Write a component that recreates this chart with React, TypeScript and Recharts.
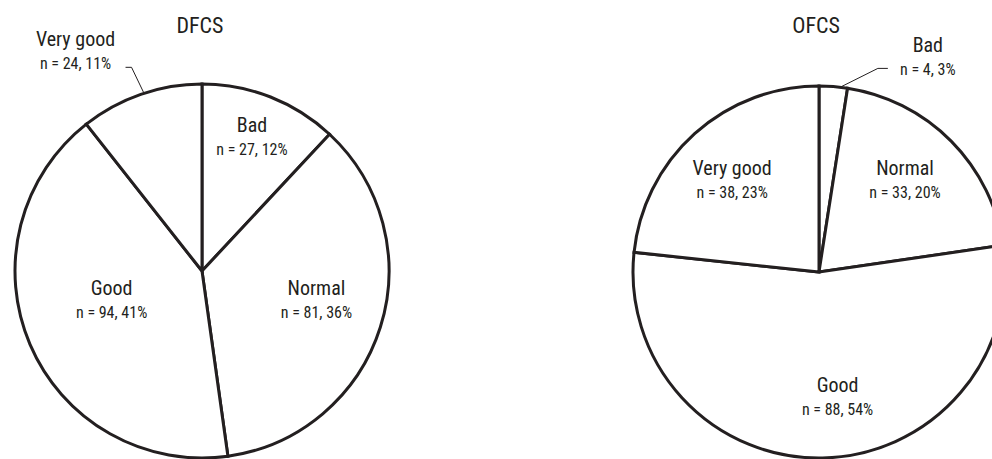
import { PieChart, Pie, Customized } from 'recharts'

const NAMES = ['Bad', 'Normal', 'Good', 'Very good']
const DFCS_N = [27, 81, 94, 24]
const DFCS_PCT = [12, 36, 41, 11]
const OFCS_N = [4, 33, 88, 38]
const OFCS_PCT = [3, 20, 54, 23]

const INK = '#231f20'
const FONT = "'Liberation Sans Narrow', 'Roboto Condensed', 'DejaVu Sans Condensed', 'Liberation Sans', sans-serif"
const RAD = Math.PI / 180

// label placement per slice: inside labels sit at k * radius, rotated da degrees off the mid angle;
// outside ones get a leader line with an elbow
type Place =
  | { k: number; da: number }
  | { da: number; elbow: [number, number]; tail: number; tx: number; nameDy: number; subDy: number }

const DFCS_PLACE: Place[] = [
  { k: 0.77, da: 1.2 },
  { k: 0.63, da: 3.8 },
  { k: 0.506, da: -5.9 },
  { da: -1, elbow: [-12, -25], tail: -6, tx: -50, nameDy: -21, subDy: 2 },
]
const OFCS_PLACE: Place[] = [
  { da: -2.6, elbow: [36, -18], tail: 10, tx: 40, nameDy: -16, subDy: 7 },
  { k: 0.681, da: 2.5 },
  { k: 0.674, da: 7.4 },
  { k: 0.684, da: 1.1 },
]

const dfcsData = NAMES.map((name, i) => ({ name, value: DFCS_N[i], pct: DFCS_PCT[i] }))
const ofcsData = NAMES.map((name, i) => ({ name, value: OFCS_N[i], pct: OFCS_PCT[i] }))

function makeLabel(places: Place[]) {
  return (props: any) => {
    const { cx, cy, midAngle, outerRadius, index, payload } = props
    const place = places[index]
    const name = payload?.name ?? NAMES[index]
    const sub = `n = ${payload?.value}, ${payload?.pct}%`
    const a = (midAngle + place.da) * RAD
    if ('k' in place) {
      const x = cx + outerRadius * place.k * Math.cos(a)
      const y = cy - outerRadius * place.k * Math.sin(a)
      return (
        <g key={`l-${index}`}>
          <text x={x} y={y - 4} textAnchor="middle" fontSize={20} fill={INK} fontFamily={FONT}>
            {name}
          </text>
          <text x={x} y={y + 19} textAnchor="middle" fontSize={16} fill={INK} fontFamily={FONT}>
            {sub}
          </text>
        </g>
      )
    }
    const x0 = cx + (outerRadius + 1) * Math.cos(a)
    const y0 = cy - (outerRadius + 1) * Math.sin(a)
    const x1 = x0 + place.elbow[0]
    const y1 = y0 + place.elbow[1]
    const x2 = x1 + place.tail
    const tx = x2 + place.tx
    return (
      <g key={`l-${index}`}>
        <polyline points={`${x0},${y0} ${x1},${y1} ${x2},${y1}`} fill="none" stroke={INK} strokeWidth={1} />
        <text x={tx} y={y1 + place.nameDy} textAnchor="middle" fontSize={20} fill={INK} fontFamily={FONT}>
          {name}
        </text>
        <text x={tx} y={y1 + place.subDy} textAnchor="middle" fontSize={16} fill={INK} fontFamily={FONT}>
          {sub}
        </text>
      </g>
    )
  }
}

function Titles() {
  return (
    <g fontFamily={FONT} fontSize={22} fill={INK}>
      <text x={200} y={33} textAnchor="middle">DFCS</text>
      <text x={816} y={33} textAnchor="middle">OFCS</text>
    </g>
  )
}

export default function App() {
  return (
    <div style={{ position: 'absolute', left: 0, top: 0, width: 992, height: 459, background: '#fff' }}>
      <PieChart width={992} height={459} margin={{ top: 0, right: 0, bottom: 0, left: 0 }}>
        <Pie
          data={dfcsData}
          dataKey="value"
          nameKey="name"
          cx={202}
          cy={271}
          outerRadius={187}
          startAngle={90}
          endAngle={-270}
          fill="#fff"
          stroke={INK}
          strokeWidth={3}
          labelLine={false}
          label={makeLabel(DFCS_PLACE)}
          isAnimationActive={false}
        />
        <Pie
          data={ofcsData}
          dataKey="value"
          nameKey="name"
          cx={819}
          cy={272}
          outerRadius={186}
          startAngle={90}
          endAngle={-270}
          fill="#fff"
          stroke={INK}
          strokeWidth={3}
          labelLine={false}
          label={makeLabel(OFCS_PLACE)}
          isAnimationActive={false}
        />
        <Customized component={Titles} />
      </PieChart>
    </div>
  )
}
